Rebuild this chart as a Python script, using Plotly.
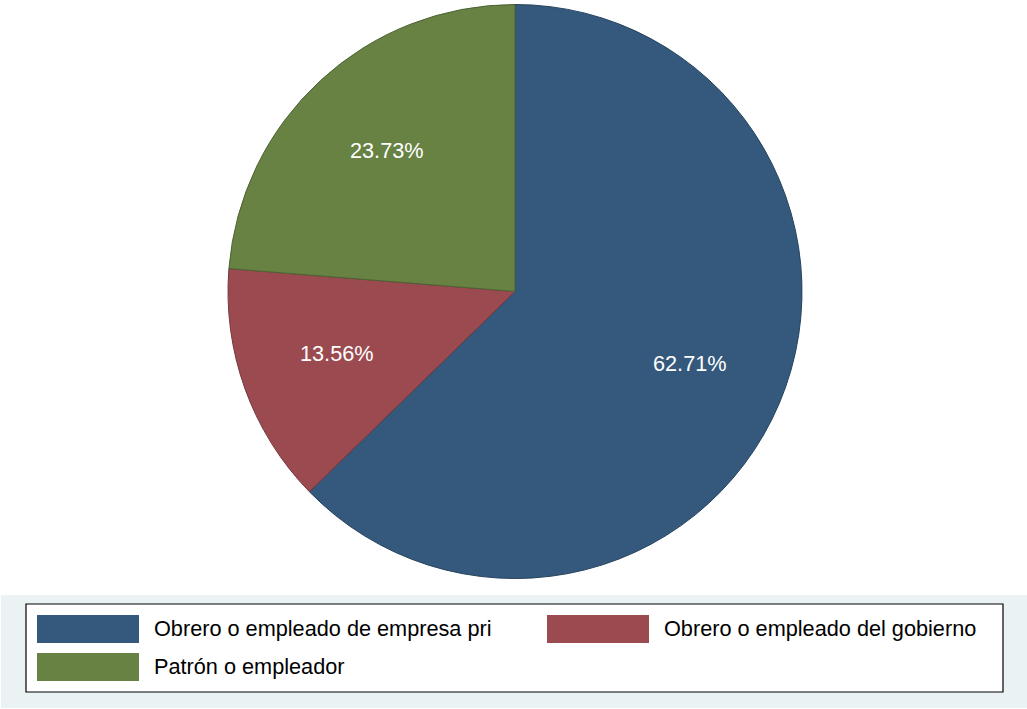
import math
import plotly.graph_objects as go

# Categories and shares (%)
labels = [
    "Obrero o empleado de empresa pri",
    "Obrero o empleado del gobierno",
    "Patrón o empleador",
]
shares = [62.71, 13.56, 23.73]
colors = ["#34597C", "#9B4A50", "#678243"]
edge_colors = ["#26435E", "#74373C", "#4D6232"]

W, H = 1027, 709
FONT = "Liberation Sans, Arial, sans-serif"
TEXT_SIZE = 21.7


def px(x):
    return x / W


def py(y):
    return 1 - y / H


# pie geometry in pixels
cx, cy, r = 515, 291.5, 287

fig = go.Figure(
    go.Pie(
        labels=labels,
        values=shares,
        sort=False,
        direction="clockwise",
        rotation=0,
        textinfo="none",
        hoverinfo="label+percent",
        marker=dict(colors=colors, line=dict(color=edge_colors, width=1)),
        domain=dict(x=[px(cx - r), px(cx + r)], y=[py(cy + r), py(cy - r)]),
        showlegend=False,
    )
)

# slice labels placed at 66% of the radius along each slice's mid-angle
annotations = []
total = sum(shares)
start = 0.0
for v in shares:
    mid = (start + v / 2) / total * 2 * math.pi
    start += v
    lx = cx + 0.66 * r * math.sin(mid)
    ly = cy - 0.66 * r * math.cos(mid) - 2
    annotations.append(
        dict(
            x=px(lx), y=py(ly), xref="paper", yref="paper",
            text=f"{v:.2f}%", showarrow=False,
            font=dict(family=FONT, size=TEXT_SIZE, color="white"),
            xanchor="center", yanchor="middle",
        )
    )

shapes = [
    # legend band
    dict(type="rect", xref="paper", yref="paper",
         x0=px(1), x1=px(1027), y0=py(708), y1=py(595),
         fillcolor="#EAF2F3", line=dict(width=0), layer="below"),
    # legend box
    dict(type="rect", xref="paper", yref="paper",
         x0=px(26), x1=px(1003), y0=py(692), y1=py(604),
         fillcolor="white", line=dict(color="black", width=1.2), layer="below"),
]

# legend entries: (swatch left, swatch top) per category
legend_pos = [(37, 615), (547, 615), (37, 653)]
for (sx, sy), lab, col in zip(legend_pos, labels, colors):
    shapes.append(dict(
        type="rect", xref="paper", yref="paper",
        x0=px(sx), x1=px(sx + 102), y0=py(sy + 28), y1=py(sy),
        fillcolor=col, line=dict(width=0),
    ))
    annotations.append(dict(
        x=px(sx + 115), y=py(sy + 13), xref="paper", yref="paper",
        text=lab, showarrow=False, xanchor="left", yanchor="middle",
        font=dict(family=FONT, size=TEXT_SIZE, color="black"),
    ))

fig.update_layout(
    width=W, height=H,
    margin=dict(l=0, r=0, t=0, b=0),
    paper_bgcolor="white",
    plot_bgcolor="white",
    shapes=shapes,
    annotations=annotations,
)

fig.write_html("out.html")
